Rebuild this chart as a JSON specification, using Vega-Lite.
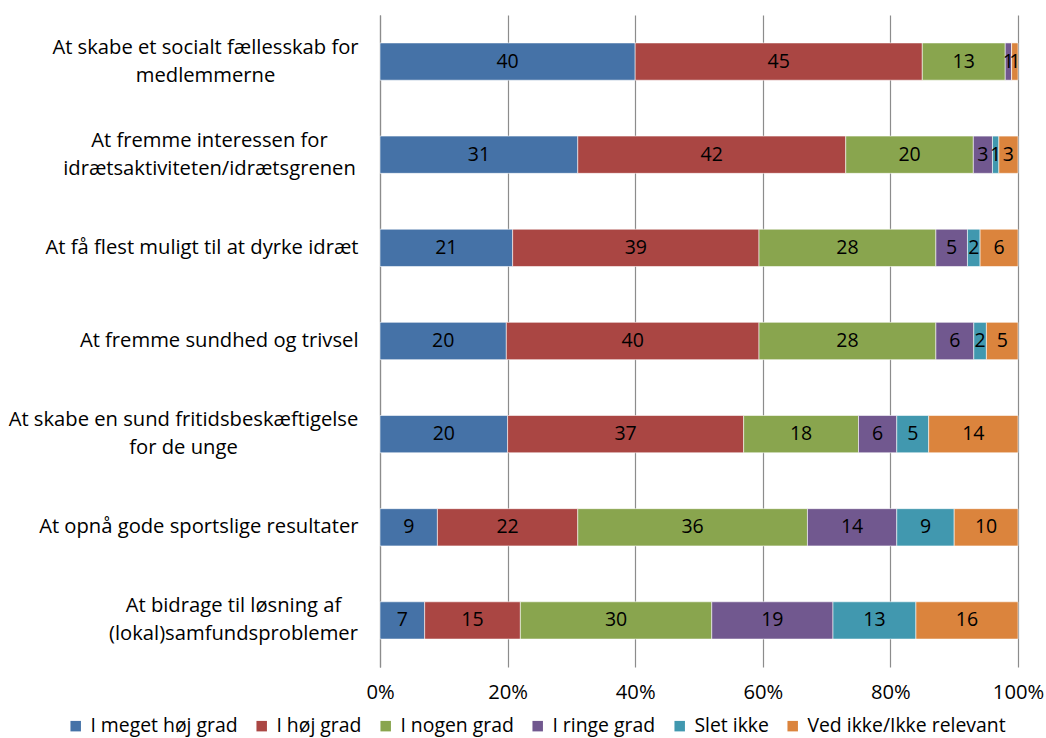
{
  "$schema": "https://vega.github.io/schema/vega-lite/v6.json",
  "autosize": {"type": "none"},
  "padding": {"left": 380, "top": 15, "right": 28, "bottom": 71},
  "width": 638,
  "height": 652,
  "background": "white",
  "config": {
    "font": "Open Sans",
    "view": {"stroke": null}
  },
  "data": {
    "values": [
      {"q": "At skabe et socialt fællesskab for\nmedlemmerne", "cat": "I meget høj grad", "k": 1, "value": 40},
      {"q": "At skabe et socialt fællesskab for\nmedlemmerne", "cat": "I høj grad", "k": 2, "value": 45},
      {"q": "At skabe et socialt fællesskab for\nmedlemmerne", "cat": "I nogen grad", "k": 3, "value": 13},
      {"q": "At skabe et socialt fællesskab for\nmedlemmerne", "cat": "I ringe grad", "k": 4, "value": 1},
      {"q": "At skabe et socialt fællesskab for\nmedlemmerne", "cat": "Slet ikke", "k": 5, "value": 0},
      {"q": "At skabe et socialt fællesskab for\nmedlemmerne", "cat": "Ved ikke/Ikke relevant", "k": 6, "value": 1},
      {"q": "At fremme interessen for\nidrætsaktiviteten/idrætsgrenen", "cat": "I meget høj grad", "k": 1, "value": 31},
      {"q": "At fremme interessen for\nidrætsaktiviteten/idrætsgrenen", "cat": "I høj grad", "k": 2, "value": 42},
      {"q": "At fremme interessen for\nidrætsaktiviteten/idrætsgrenen", "cat": "I nogen grad", "k": 3, "value": 20},
      {"q": "At fremme interessen for\nidrætsaktiviteten/idrætsgrenen", "cat": "I ringe grad", "k": 4, "value": 3},
      {"q": "At fremme interessen for\nidrætsaktiviteten/idrætsgrenen", "cat": "Slet ikke", "k": 5, "value": 1},
      {"q": "At fremme interessen for\nidrætsaktiviteten/idrætsgrenen", "cat": "Ved ikke/Ikke relevant", "k": 6, "value": 3},
      {"q": "At få flest muligt til at dyrke idræt", "cat": "I meget høj grad", "k": 1, "value": 21},
      {"q": "At få flest muligt til at dyrke idræt", "cat": "I høj grad", "k": 2, "value": 39},
      {"q": "At få flest muligt til at dyrke idræt", "cat": "I nogen grad", "k": 3, "value": 28},
      {"q": "At få flest muligt til at dyrke idræt", "cat": "I ringe grad", "k": 4, "value": 5},
      {"q": "At få flest muligt til at dyrke idræt", "cat": "Slet ikke", "k": 5, "value": 2},
      {"q": "At få flest muligt til at dyrke idræt", "cat": "Ved ikke/Ikke relevant", "k": 6, "value": 6},
      {"q": "At fremme sundhed og trivsel", "cat": "I meget høj grad", "k": 1, "value": 20},
      {"q": "At fremme sundhed og trivsel", "cat": "I høj grad", "k": 2, "value": 40},
      {"q": "At fremme sundhed og trivsel", "cat": "I nogen grad", "k": 3, "value": 28},
      {"q": "At fremme sundhed og trivsel", "cat": "I ringe grad", "k": 4, "value": 6},
      {"q": "At fremme sundhed og trivsel", "cat": "Slet ikke", "k": 5, "value": 2},
      {"q": "At fremme sundhed og trivsel", "cat": "Ved ikke/Ikke relevant", "k": 6, "value": 5},
      {"q": "At skabe en sund fritidsbeskæftigelse\nfor de unge", "cat": "I meget høj grad", "k": 1, "value": 20},
      {"q": "At skabe en sund fritidsbeskæftigelse\nfor de unge", "cat": "I høj grad", "k": 2, "value": 37},
      {"q": "At skabe en sund fritidsbeskæftigelse\nfor de unge", "cat": "I nogen grad", "k": 3, "value": 18},
      {"q": "At skabe en sund fritidsbeskæftigelse\nfor de unge", "cat": "I ringe grad", "k": 4, "value": 6},
      {"q": "At skabe en sund fritidsbeskæftigelse\nfor de unge", "cat": "Slet ikke", "k": 5, "value": 5},
      {"q": "At skabe en sund fritidsbeskæftigelse\nfor de unge", "cat": "Ved ikke/Ikke relevant", "k": 6, "value": 14},
      {"q": "At opnå gode sportslige resultater", "cat": "I meget høj grad", "k": 1, "value": 9},
      {"q": "At opnå gode sportslige resultater", "cat": "I høj grad", "k": 2, "value": 22},
      {"q": "At opnå gode sportslige resultater", "cat": "I nogen grad", "k": 3, "value": 36},
      {"q": "At opnå gode sportslige resultater", "cat": "I ringe grad", "k": 4, "value": 14},
      {"q": "At opnå gode sportslige resultater", "cat": "Slet ikke", "k": 5, "value": 9},
      {"q": "At opnå gode sportslige resultater", "cat": "Ved ikke/Ikke relevant", "k": 6, "value": 10},
      {"q": "At bidrage til løsning af\n(lokal)samfundsproblemer", "cat": "I meget høj grad", "k": 1, "value": 7},
      {"q": "At bidrage til løsning af\n(lokal)samfundsproblemer", "cat": "I høj grad", "k": 2, "value": 15},
      {"q": "At bidrage til løsning af\n(lokal)samfundsproblemer", "cat": "I nogen grad", "k": 3, "value": 30},
      {"q": "At bidrage til løsning af\n(lokal)samfundsproblemer", "cat": "I ringe grad", "k": 4, "value": 19},
      {"q": "At bidrage til løsning af\n(lokal)samfundsproblemer", "cat": "Slet ikke", "k": 5, "value": 13},
      {"q": "At bidrage til løsning af\n(lokal)samfundsproblemer", "cat": "Ved ikke/Ikke relevant", "k": 6, "value": 16}
    ]
  },
  "transform": [
    {"stack": "value", "groupby": ["q"], "sort": [{"field": "k", "order": "ascending"}], "offset": "normalize", "as": ["v0", "v1"]},
    {"calculate": "(datum.v0 + datum.v1) / 2", "as": "mid"}
  ],
  "encoding": {
    "y": {
      "field": "q",
      "type": "nominal",
      "sort": null,
      "title": null,
      "scale": {"paddingInner": 0.6, "paddingOuter": 0.3},
      "axis": {
        "labelExpr": "split(datum.label, '\\n')",
        "labelFontSize": 20.2,
        "labelColor": "#000000",
        "labelLineHeight": 28,
        "labelLimit": 400,
        "labelAlign": {"condition": {"test": "indexof(datum.value, '\\n') >= 0", "value": "center"}, "value": "right"},
        "labelPadding": {
          "condition": [
            {"test": "indexof(datum.value, 'medlemmerne') >= 0", "value": 175},
            {"test": "indexof(datum.value, 'idrætsgrenen') >= 0", "value": 171},
            {"test": "indexof(datum.value, 'unge') >= 0", "value": 197},
            {"test": "indexof(datum.value, 'samfundsproblemer') >= 0", "value": 147}
          ],
          "value": 22
        },
        "labelOffset": {"condition": {"test": "indexof(datum.value, '\\n') >= 0", "value": -14}, "value": 0},
        "ticks": false,
        "domain": true,
        "domainColor": "#8c8c8c",
        "domainWidth": 1.2,
        "grid": false
      }
    }
  },
  "layer": [
    {
      "mark": {"type": "bar", "stroke": "#ffffff", "strokeWidth": 0.8, "strokeOpacity": 0.7},
      "encoding": {
        "x": {
          "field": "v0",
          "type": "quantitative",
          "title": null,
          "scale": {"domain": [0, 1], "nice": false},
          "axis": {
            "values": [0, 0.2, 0.4, 0.6, 0.8, 1],
            "format": ".0%",
            "labelFontSize": 20.2,
            "labelColor": "#000000",
            "labelPadding": 15,
            "labelFlush": false,
            "labelOverlap": false,
            "ticks": false,
            "domain": false,
            "grid": true,
            "gridColor": "#8c8c8c",
            "gridWidth": 1.2
          }
        },
        "x2": {"field": "v1"},
        "color": {
          "field": "cat",
          "type": "nominal",
          "title": null,
          "scale": {
            "domain": ["I meget høj grad", "I høj grad", "I nogen grad", "I ringe grad", "Slet ikke", "Ved ikke/Ikke relevant"],
            "range": ["#4572A7", "#AA4643", "#89A54E", "#71588F", "#4198AF", "#DB843D"]
          },
          "legend": {
            "orient": "none",
            "direction": "horizontal",
            "legendX": -314,
            "legendY": 701,
            "symbolType": "square",
            "symbolSize": 110,
            "symbolStrokeWidth": 0,
            "labelFontSize": 19.4,
            "labelColor": "#000000",
            "labelOffset": 5,
            "columnPadding": 14,
            "labelLimit": 400
          }
        }
      }
    },
    {
      "transform": [{"filter": "datum.value > 0"}],
      "mark": {"type": "text", "fontSize": 19.5, "color": "#000000", "align": "center", "baseline": "middle"},
      "encoding": {
        "x": {"field": "mid", "type": "quantitative"},
        "text": {"field": "value", "type": "quantitative"}
      }
    }
  ]
}
